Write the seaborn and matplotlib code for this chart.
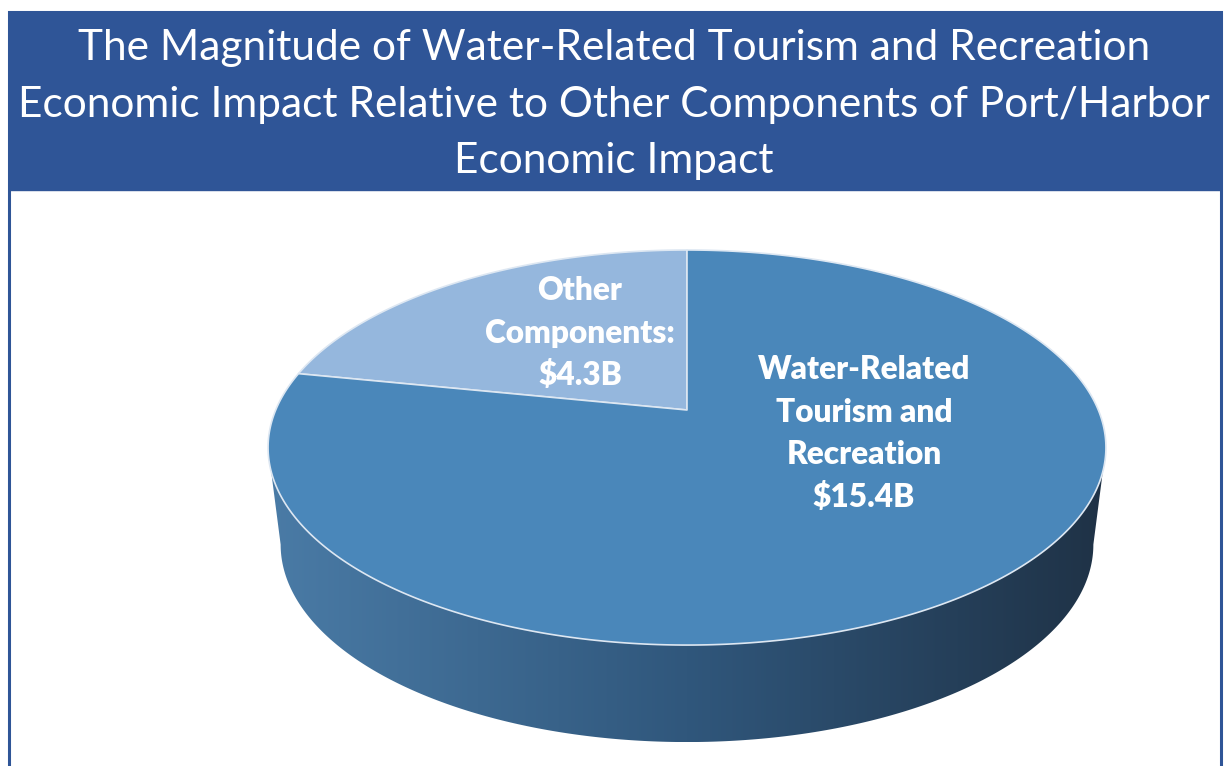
import numpy as np
import matplotlib
matplotlib.use("Agg")
import matplotlib.pyplot as plt
from matplotlib.patches import Polygon, Rectangle
import seaborn as sns

# ---------------- data ----------------
categories = ["Other Components", "Water-Related Tourism and Recreation"]
values = [4.3, 15.4]
label_names = [["Other", "Components:"], ["Water-Related", "Tourism and", "Recreation"]]
title_lines = [
    "The Magnitude of Water-Related Tourism and Recreation",
    "Economic Impact Relative to Other Components of Port/Harbor",
    "Economic Impact",
]

# ---------------- style ----------------
sns.set_theme(style="white")
plt.rcParams["font.family"] = ["Lato", "DejaVu Sans"]

BAND = "#2F5597"
top_colors = sns.color_palette(["#95B7DD", "#4A87BA"])
side_grad = sns.blend_palette(["#4A7BA6", "#30577C", "#1F3246"], n_colors=256)

W, H = 1228, 766
fig = plt.figure(figsize=(W / 100, H / 100), dpi=100)
ax = fig.add_axes([0, 0, 1, 1])
ax.set_xlim(0, W)
ax.set_ylim(H, 0)
ax.axis("off")

# frame + title band
ax.add_patch(Rectangle((9, 12), 1212, 800, facecolor="white", edgecolor=BAND, lw=2.2, zorder=0))
ax.add_patch(Rectangle((9, 12), 1212, 178, facecolor=BAND, edgecolor=BAND, lw=1, zorder=1))
title_baselines = [60, 117, 173]
for line, yb in zip(title_lines, title_baselines):
    ax.text(614, yb, line, color="white", fontsize=30.5, ha="center", va="baseline", zorder=2)

# ---------------- 3D pie geometry (perspective) ----------------
cx, cy = 687, 410          # projected pie centre
A, B, k = 411.3, 190.4, 0.19
D = 97                      # thickness
SB = 0.97                   # bottom rim horizontal scale


def proj(phi_deg, dy=0.0, sx=1.0):
    p = np.radians(phi_deg)
    u, v = np.cos(p), np.sin(p)
    w = 1 + k * v
    return np.column_stack([cx + sx * A * u / w, cy + dy - B * v / w])


total = sum(values)
fracs = [v / total for v in values]
start = 90.0
angles = []
a0 = start
for f in fracs:
    angles.append((a0, a0 + 360 * f))
    a0 += 360 * f

# side (front visible part)
phiL = 180 + np.degrees(np.arcsin(k))
phiR = 360 - np.degrees(np.arcsin(k))
ph = np.linspace(phiL, phiR, 300)
top_rim = proj(ph)
bot_rim = proj(ph[::-1], dy=D, sx=SB)
side_pts = np.vstack([top_rim, bot_rim])
side_poly = Polygon(side_pts, closed=True, facecolor="none", edgecolor="none", zorder=3)
ax.add_patch(side_poly)
grad = np.array(side_grad)[None, :, :]
xmin, xmax = side_pts[:, 0].min(), side_pts[:, 0].max()
ymin, ymax = side_pts[:, 1].min(), side_pts[:, 1].max()
im = ax.imshow(grad, extent=(xmin, xmax, ymax, ymin), aspect="auto", zorder=3, interpolation="bilinear")
im.set_clip_path(side_poly)

# top faces
for (t1, t2), col in zip(angles, top_colors):
    ph = np.linspace(t1, t2, 400)
    pts = np.vstack([[cx, cy], proj(ph)])
    ax.add_patch(Polygon(pts, closed=True, facecolor=col, edgecolor="#DDE7F2", lw=1.2,
                         joinstyle="round", zorder=4))

ax.set_xlim(0, W)
ax.set_ylim(H, 0)

# labels
label_anchor = [(580, 300), (864, 379)]   # x centre, first baseline
LINE_STEP = 42.5
for names, v, (x, y0) in zip(label_names, values, label_anchor):
    lines = names + [f"${v}B"]
    for i, s in enumerate(lines):
        ax.text(x, y0 + i * LINE_STEP, s, color="white", fontsize=22.8, fontweight="heavy",
                ha="center", va="baseline", zorder=6)

fig.savefig("out.png", dpi=100)
